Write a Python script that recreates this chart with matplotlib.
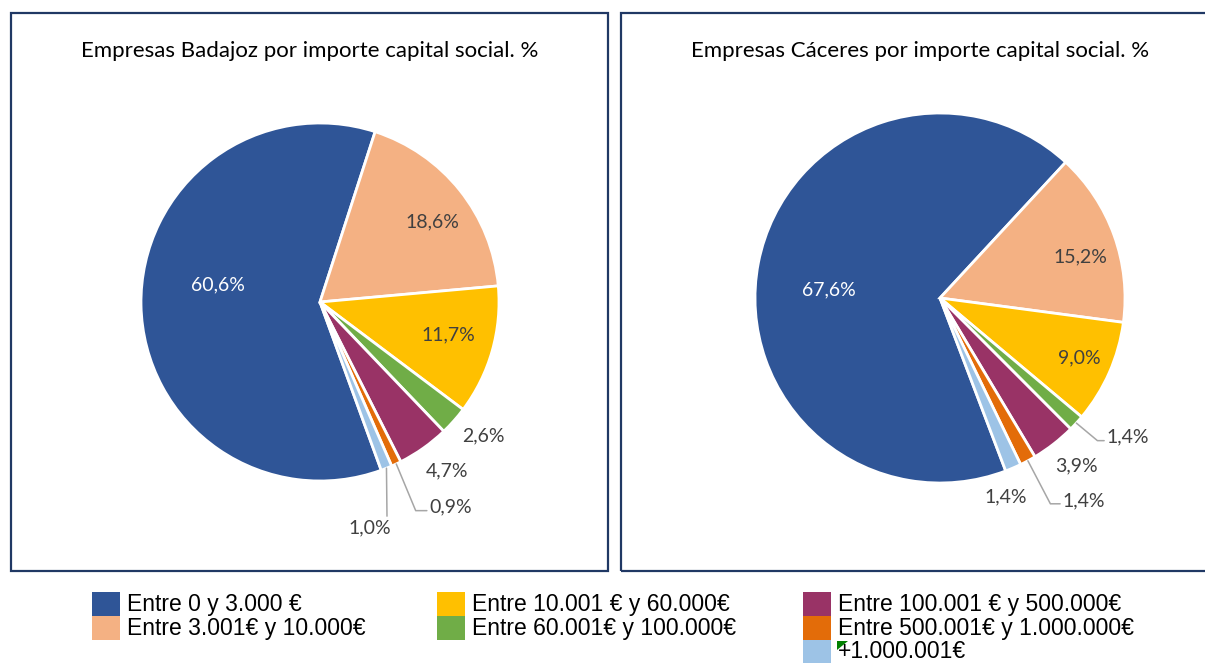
import matplotlib
matplotlib.use("Agg")
import matplotlib.pyplot as plt
import numpy as np
from matplotlib.patches import Rectangle, Polygon

# data
categories = ["Entre 0 y 3.000 €", "Entre 3.001€ y 10.000€", "Entre 10.001 € y 60.000€",
              "Entre 60.001€ y 100.000€", "Entre 100.001 € y 500.000€",
              "Entre 500.001€ y 1.000.000€", "+1.000.001€"]
badajoz = [60.6, 18.6, 11.7, 2.6, 4.7, 0.9, 1.0]
caceres = [67.6, 15.2, 9.0, 1.4, 3.9, 1.4, 1.4]
titles = ["Empresas Badajoz por importe capital social. %",
          "Empresas Cáceres por importe capital social. %"]

colors = ["#2F5597", "#F4B183", "#FFC000", "#70AD47", "#993366", "#E36C09", "#9DC3E6"]
text_colors = ["white"] + ["#404040"] * 6

W, H = 1205, 663
fig = plt.figure(figsize=(W / 100, H / 100), dpi=100)
fig.patch.set_facecolor("white")


def fx(px):
    return px / W


def fy(py):
    return 1 - py / H


# label layout: (radius, angle nudge clockwise in deg, ha, leader)
# leader: None, ("elbow", angleB) or "drop"
layout_bad = [(0.58, 10.5, "center", None), (0.77, 3, "center", None),
              (0.74, -1.5, "center", None), (1.18, -2.2, "center", None),
              (1.18, -1.8, "center", None), (1.30, -2.9, "left", ("elbow", -67.4)),
              (1.29, 9.3, "center", "drop")]
layout_cac = [(0.60, -6.8, "center", None), (0.79, 3.5, "center", None),
              (0.82, -0.6, "center", None), (1.175, -2.7, "left", ("elbow", -39.8)),
              (1.17, -1.1, "center", None), (1.28, -2.9, "left", ("elbow", -62.4)),
              (1.13, 5.1, "center", None)]

pies = [(badajoz, (320, 302), 179, -70, layout_bad),
        (caceres, (940, 298), 185, -69.2, layout_cac)]

for values, (cx, cy), r, start, layout in pies:
    ax = fig.add_axes([fx(cx - r), fy(cy + r), fx(2 * r), (2 * r) / H])
    wedges, _ = ax.pie(values, colors=colors, startangle=start, counterclock=False,
                       radius=1, wedgeprops=dict(edgecolor="white", linewidth=2))
    ax.set_xlim(-1, 1)
    ax.set_ylim(-1, 1)
    ax.set_aspect("equal")
    ax.axis("off")
    for w, v, tc, (rl, dang, ha, leader) in zip(wedges, values, text_colors, layout):
        mid = np.deg2rad((w.theta1 + w.theta2) / 2)
        lab = np.deg2rad((w.theta1 + w.theta2) / 2 - dang)
        pos = (rl * np.cos(lab), rl * np.sin(lab))
        s = f"{v:.1f}%".replace(".", ",")
        kw = dict(fontsize=14, family="Lato", color=tc, ha=ha, va="center")
        if leader is None:
            ax.text(pos[0], pos[1], s, **kw)
        else:
            edge = (np.cos(mid), np.sin(mid))
            if leader == "drop":
                ap = dict(arrowstyle="-", color="#A6A6A6", lw=1.1, shrinkA=0, shrinkB=0,
                          relpos=(0.9, 1.0), connectionstyle="arc3")
            else:
                ap = dict(arrowstyle="-", color="#A6A6A6", lw=1.1, shrinkA=0, shrinkB=0,
                          relpos=(0.0, 0.3),
                          connectionstyle=f"angle,angleA=180,angleB={leader[1]},rad=0")
            ax.annotate(s, xy=edge, xytext=pos, arrowprops=ap, annotation_clip=False, **kw)

# titles
fig.text(fx(310), fy(51), titles[0], ha="center", va="center", fontsize=16, family="Lato", color="black")
fig.text(fx(920), fy(51), titles[1], ha="center", va="center", fontsize=16, family="Lato", color="black")

# frames around each chart
box_color = "#203864"
fig.patches.append(Rectangle((fx(11), fy(571)), fx(597), (571 - 13) / H, fill=False,
                             edgecolor=box_color, linewidth=1.6, transform=fig.transFigure))
fig.patches.append(Rectangle((fx(621), fy(571)), fx(600), (571 - 13) / H, fill=False,
                             edgecolor=box_color, linewidth=1.6, transform=fig.transFigure))

# legend drawn by hand: three columns, squares stacked without gaps
col_x = [92, 437, 803]
col_items = [[0, 1], [2, 3], [4, 5, 6]]
row_top, row_h, sq_w, text_pitch = 592, 24, 28, 23
for x0, items in zip(col_x, col_items):
    for k, i in enumerate(items):
        top = row_top + k * row_h
        fig.patches.append(Rectangle((fx(x0), fy(top + row_h)), fx(sq_w), row_h / H,
                                     facecolor=colors[i], edgecolor="none",
                                     transform=fig.transFigure))
        fig.text(fx(x0 + sq_w + 7), fy(row_top + 13 + k * text_pitch), categories[i], ha="left",
                 va="center", fontsize=16.5, family="Liberation Sans", color="black")

# small green marker next to the last legend entry
fig.patches.append(Polygon([(fx(837), fy(641)), (fx(848), fy(641)), (fx(837), fy(650))],
                           closed=True, facecolor="#008000", edgecolor="none",
                           transform=fig.transFigure))

fig.savefig("out.png", dpi=100)
